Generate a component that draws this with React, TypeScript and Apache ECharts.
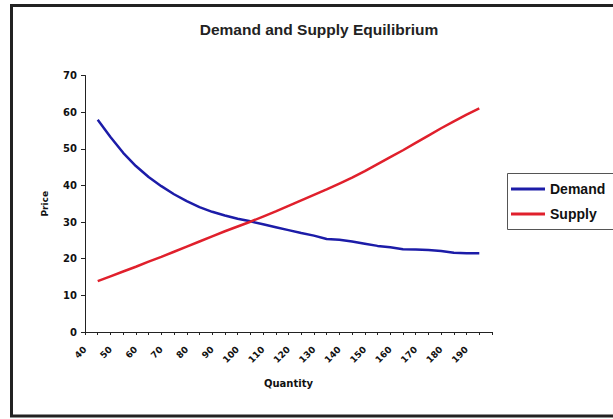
import React, { useEffect, useRef } from "react";
import * as echarts from "echarts";

const quantities = [45, 50, 55, 60, 65, 70, 75, 80, 85, 90, 95, 100, 105, 110, 115, 120, 125, 130, 135, 140, 145, 150, 155, 160, 165, 170, 175, 180, 185, 190, 195];
const demand = [57.9, 53.2, 48.9, 45.3, 42.3, 39.8, 37.6, 35.7, 34.1, 32.8, 31.8, 30.9, 30.2, 29.4, 28.6, 27.8, 27.0, 26.3, 25.4, 25.2, 24.7, 24.1, 23.5, 23.1, 22.6, 22.5, 22.4, 22.1, 21.6, 21.5, 21.5];
const supply = [13.9, 15.2, 16.5, 17.8, 19.2, 20.5, 21.9, 23.3, 24.7, 26.1, 27.5, 28.8, 30.1, 31.5, 32.9, 34.4, 35.9, 37.4, 38.9, 40.5, 42.1, 43.9, 45.8, 47.7, 49.6, 51.6, 53.6, 55.6, 57.5, 59.3, 61.0];
const seriesNames = ["Demand", "Supply"];
const titleText = "Demand and Supply Equilibrium";

export default function App() {
  const ref = useRef<HTMLDivElement>(null);
  useEffect(() => {
    if (!ref.current) return;
    const chart = echarts.init(ref.current, null, { renderer: "svg" });
    const tickFont = { fontFamily: "DejaVu Sans", fontWeight: "bold" as const, fontSize: 10, color: "#111" };
    chart.setOption({
      animation: false,
      backgroundColor: "#fff",
      title: {
        text: titleText,
        left: 314,
        top: 16,
        textAlign: "center",
        textStyle: { fontFamily: "Liberation Sans", fontWeight: "bold", fontSize: 15.5, color: "#222" },
      },
      graphic: [
        {
          type: "rect",
          shape: { x: 11.5, y: 5.5, width: 640, height: 410.5 },
          style: { fill: "none", stroke: "#222", lineWidth: 3 },
        },
        {
          type: "polyline",
          shape: { points: [[640, 173.5], [507.5, 173.5], [507.5, 229.5], [640, 229.5]] },
          style: { fill: "none", stroke: "#555", lineWidth: 1 },
          z: 10,
        },
      ],
      legend: {
        data: seriesNames,
        orient: "vertical",
        left: 507,
        top: 174,
        icon: "rect",
        itemWidth: 34,
        itemHeight: 3,
        itemGap: 11,
        padding: [8, 4, 9, 4],
        textStyle: { fontFamily: "Liberation Sans", fontWeight: "bold", fontSize: 14, color: "#111" },
      },
      grid: { left: 85, top: 75.5, width: 407, height: 256.5 },
      xAxis: {
        type: "value",
        min: 40,
        max: 200,
        interval: 5,
        name: "Quantity",
        nameLocation: "middle",
        nameGap: 46,
        nameTextStyle: { fontFamily: "DejaVu Sans", fontWeight: "bold", fontSize: 10, color: "#111" },
        axisLine: { lineStyle: { color: "#222", width: 1 } },
        axisTick: { length: 3, lineStyle: { color: "#222" } },
        splitLine: { show: false },
        axisLabel: {
          ...tickFont,
          fontSize: 9,
          rotate: 45,
          margin: 16,
          showMaxLabel: true,
          formatter: (v: number) => (v % 10 === 0 && v < 200 ? String(v) : ""),
        },
      },
      yAxis: {
        type: "value",
        min: 0,
        max: 70,
        interval: 10,
        name: "Price",
        nameLocation: "middle",
        nameRotate: 90,
        nameGap: 36,
        nameTextStyle: { fontFamily: "DejaVu Sans", fontWeight: "bold", fontSize: 9, color: "#111" },
        axisLine: { show: true, lineStyle: { color: "#222", width: 1 } },
        axisTick: { show: true, length: 4, lineStyle: { color: "#222" } },
        splitLine: { show: false },
        axisLabel: { ...tickFont, margin: 8 },
      },
      series: [
        {
          name: seriesNames[0],
          type: "line",
          data: quantities.map((q, i) => [q, demand[i]]),
          symbol: "none",
          color: "#1c1ca8",
          lineStyle: { width: 2.5, color: "#1c1ca8" },
        },
        {
          name: seriesNames[1],
          type: "line",
          data: quantities.map((q, i) => [q, supply[i]]),
          symbol: "none",
          color: "#e0202c",
          lineStyle: { width: 2.5, color: "#e0202c" },
        },
      ],
    });
    return () => chart.dispose();
  }, []);
  return (
    <div
      ref={ref}
      style={{ position: "fixed", left: 0, top: 0, width: 613, height: 419, background: "#fff" }}
    />
  );
}
